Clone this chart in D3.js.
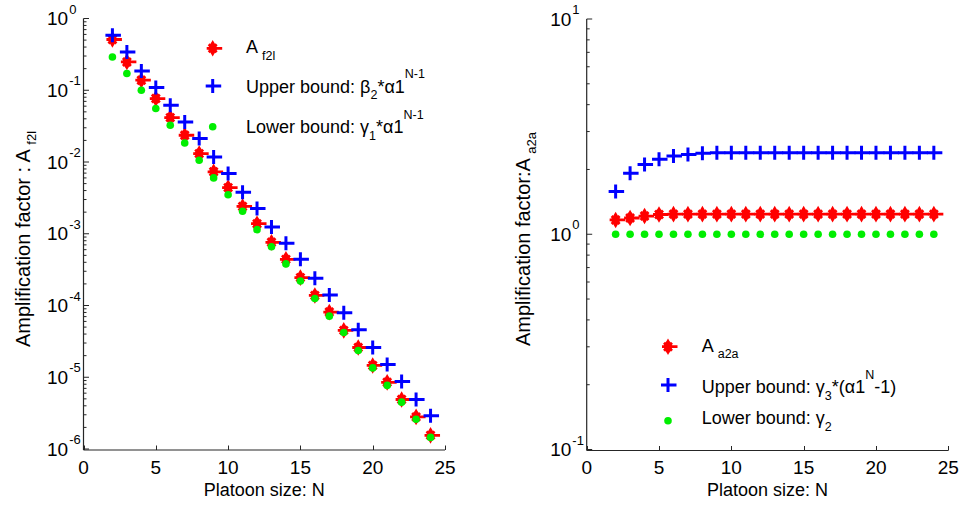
<!DOCTYPE html>
<html><head><meta charset="utf-8">
<script src="https://cdn.jsdelivr.net/npm/d3@7"></script>
<style>
html,body{margin:0;padding:0;background:#fff;}
text{font-family:"Liberation Sans",Arial,sans-serif;fill:#000;}
</style></head>
<body>
<svg id="chart" width="960" height="506"></svg>
<script>
// ---------- data ----------
const N = [2,3,4,5,6,7,8,9,10,11,12,13,14,15,16,17,18,19,20,21,22,23,24];
const A_f2l = [0.51,0.248,0.138,0.0766,0.0416,0.0236,0.0131,0.0073,0.0044,0.0024,0.00138,0.00076,0.00044,0.000245,0.000138,8.1e-5,4.5e-5,2.6e-5,1.46e-5,8.5e-6,4.9e-6,2.8e-6,1.55e-6];
const upper_f2l = [0.585,0.342,0.186,0.109,0.0617,0.0361,0.0212,0.0117,0.0069,0.0038,0.00224,0.00124,0.00074,0.00044,0.00024,0.00014,7.9e-5,4.6e-5,2.6e-5,1.5e-5,8.7e-6,4.9e-6,2.9e-6];
const lower_f2l = [0.29,0.171,0.1,0.0556,0.0325,0.0184,0.0106,0.006,0.0035,0.00206,0.00114,0.00066,0.00038,0.00022,0.000125,7.1e-5,4.2e-5,2.36e-5,1.35e-5,7.7e-6,4.5e-6,2.6e-6,1.45e-6];
const A_a2a = [1.165,1.19,1.215,1.235,1.24,1.24,1.24,1.24,1.24,1.24,1.24,1.24,1.24,1.24,1.24,1.24,1.24,1.24,1.24,1.24,1.24,1.24,1.24];
const upper_a2a = [1.58,1.92,2.11,2.23,2.31,2.35,2.38,2.39,2.39,2.39,2.39,2.39,2.39,2.39,2.39,2.39,2.39,2.39,2.39,2.39,2.39,2.39,2.39];
const lower_a2a = [1,1,1,1,1,1,1,1,1,1,1,1,1,1,1,1,1,1,1,1,1,1,1];
const xTicks = [0,5,10,15,20,25];
const leftExps = [0,-1,-2,-3,-4,-5,-6];
const rightExps = [1,0,-1];

// ---------- drawing ----------
const svg = d3.select("#chart");

function richText(g, x, y, segs, size, subSize, anchor){
  const t = g.append("text").attr("x", x).attr("y", y)
    .attr("font-size", size).attr("text-anchor", anchor||"start");
  let cur = 0;
  segs.forEach(s=>{
    const mode = s[1]||"n";
    const target = mode==="sub" ? 6.5 : (mode==="sup" ? -14.5 : 0);
    const ts = t.append("tspan").text(s[0]).attr("dy", target - cur);
    if(mode!=="n") ts.attr("font-size", subSize);
    cur = target;
  });
  return t;
}

function drawRed(g, cx, cy){
  const r = 5.5;
  const p = d3.path();
  p.moveTo(cx - r - 0.5, cy); p.lineTo(cx + r + 4, cy);
  p.moveTo(cx, cy - r); p.lineTo(cx, cy + r);
  p.moveTo(cx - r*0.72, cy - r*0.72); p.lineTo(cx + r*0.72, cy + r*0.72);
  p.moveTo(cx - r*0.72, cy + r*0.72); p.lineTo(cx + r*0.72, cy - r*0.72);
  g.append("path").attr("d", p.toString()).attr("stroke", "#ff0000")
    .attr("stroke-width", 2.8).attr("fill", "none");
  g.append("path").attr("d", d3.symbol(d3.symbolDiamond, 80)())
    .attr("transform", `translate(${cx},${cy})`).attr("fill", "#ff0000");
}
function drawBlue(g, cx, cy){
  const p = d3.path();
  p.moveTo(cx - 7, cy); p.lineTo(cx + 8.5, cy);
  p.moveTo(cx, cy - 7); p.lineTo(cx, cy + 7);
  g.append("path").attr("d", p.toString()).attr("stroke", "#0000ff")
    .attr("stroke-width", 3).attr("fill", "none");
}
function drawGreen(g, cx, cy){
  g.append("circle").attr("cx", cx).attr("cy", cy).attr("r", 3.8).attr("fill", "#00ee00");
}

function panel(cfg){
  const g = svg.append("g");
  const x = d3.scaleLinear().domain([0,25]).range([cfg.x0, cfg.x1]);
  const y = d3.scaleLog().domain(cfg.ydom).range([cfg.y0, cfg.y1]);

  // axes
  g.append("line").attr("x1", cfg.x0).attr("x2", cfg.x0).attr("y1", cfg.y1).attr("y2", cfg.y0 + 1)
    .attr("stroke", "#262626").attr("stroke-width", 1.2);
  g.append("line").attr("x1", cfg.x0).attr("x2", cfg.x1).attr("y1", cfg.y0 + 1).attr("y2", cfg.y0 + 1)
    .attr("stroke", "#262626").attr("stroke-width", 1.2);

  // x ticks
  xTicks.forEach(t=>{
    const xx = Math.round(x(t)) + 0.5;
    g.append("line").attr("x1", xx).attr("x2", xx).attr("y1", cfg.y0 + 1).attr("y2", cfg.y0 - 3.5)
      .attr("stroke", "#262626").attr("stroke-width", 1);
    g.append("text").attr("x", x(t)).attr("y", 474).attr("font-size", 19)
      .attr("text-anchor", "middle").text(t);
  });
  // y ticks (major + minor)
  const [lo, hi] = cfg.ydom;
  const eLo = Math.round(Math.log10(lo)), eHi = Math.round(Math.log10(hi));
  for(let e = eLo; e <= eHi; e++){
    const yy = y(Math.pow(10, e));
    g.append("line").attr("x1", cfg.x0).attr("x2", cfg.x0 + 5.5).attr("y1", yy).attr("y2", yy)
      .attr("stroke", "#262626").attr("stroke-width", 1);
    if(e < eHi){
      for(let m = 2; m <= 9; m++){
        const ym = y(m * Math.pow(10, e));
        g.append("line").attr("x1", cfg.x0).attr("x2", cfg.x0 + 3).attr("y1", ym).attr("y2", ym)
          .attr("stroke", "#262626").attr("stroke-width", 1);
      }
    }
  }
  cfg.exps.forEach(e=>{
    const yy = y(Math.pow(10, e));
    const t = g.append("text").attr("x", cfg.x0 - 36.5).attr("y", yy + 6.5).attr("font-size", 19);
    t.append("tspan").text("10");
    t.append("tspan").attr("dx", 1).attr("dy", -11.5).attr("font-size", 13).text(String(e));
  });

  // x label
  g.append("text").attr("x", (cfg.x0 + cfg.x1)/2).attr("y", 496).attr("font-size", 18)
    .attr("text-anchor", "middle").text("Platoon size: N");
  // y label
  const yl = g.append("g").attr("transform", `translate(${cfg.ylx},239) rotate(-90)`);
  richText(yl, 0, 0, cfg.ylabel, 20, 13, "middle");

  // data
  const series = cfg.series;
  N.forEach((n,i)=> drawRed(g, x(n), y(series[0][i])));
  N.forEach((n,i)=> drawBlue(g, x(n), y(series[1][i])));
  N.forEach((n,i)=> drawGreen(g, x(n), y(series[2][i])));

  // legend
  const L = cfg.legend;
  drawRed(g, L.mx, L.my[0]);
  drawBlue(g, L.mx, L.my[1]);
  drawGreen(g, L.mx, L.my[2]);
  L.labels.forEach((segs,i)=> richText(g, L.tx, L.ty[i], segs, 18, 12.5));
}

panel({
  x0: 83.5, x1: 445, y0: 449, y1: 18.5, ydom: [1e-6, 1], exps: leftExps, ylx: 29.5,
  ylabel: [["Amplification factor :  A "],[" f2l","sub"]],
  series: [A_f2l, upper_f2l, lower_f2l],
  legend: { mx: 212.7, my: [48.3, 86, 126.7], tx: 246, ty: [53.3, 92.7, 133.3],
    labels: [
      [["A "],[" f2l","sub"]],
      [["Upper bound: β"],["2","sub"],["*α1"],["N-1","sup"]],
      [["Lower bound: γ"],["1","sub"],["*α1"],["N-1","sup"]]
    ]}
});
panel({
  x0: 586.7, x1: 948.3, y0: 449.5, y1: 19, ydom: [0.1, 10], exps: rightExps, ylx: 529.5,
  ylabel: [["Amplification factor:A "],[" a2a","sub"]],
  series: [A_a2a, upper_a2a, lower_a2a],
  legend: { mx: 668, my: [346.7, 385, 420.7], tx: 701.7, ty: [351.7, 393.3, 424.3],
    labels: [
      [["A "],[" a2a","sub"]],
      [["Upper bound: γ"],["3","sub"],["*(α1"],["N","sup"],["-1)"]],
      [["Lower bound: γ"],["2","sub"]]
    ]}
});
</script>
</body></html>
